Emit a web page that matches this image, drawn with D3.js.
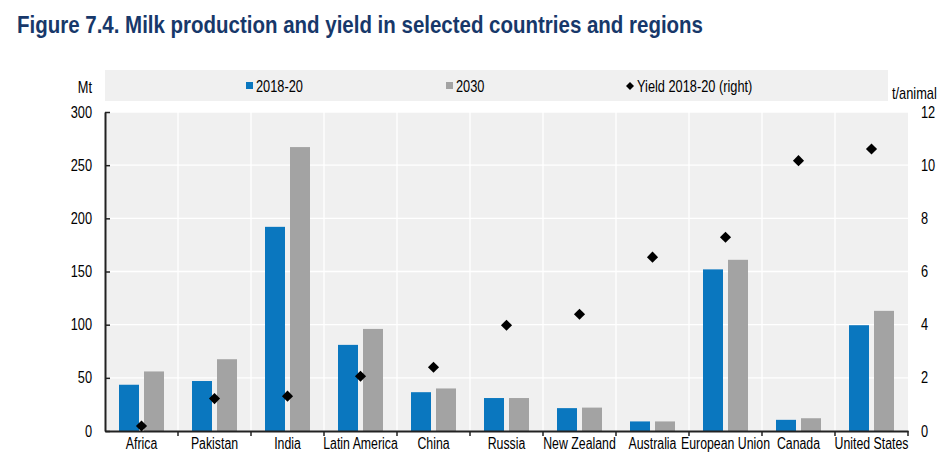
<!DOCTYPE html>
<html>
<head>
<meta charset="utf-8">
<script src="https://cdn.jsdelivr.net/npm/d3@7"></script>
<style>
  html, body { margin: 0; padding: 0; background: #fff; }
  svg text { font-family: "Liberation Sans", Arial, sans-serif; }
</style>
</head>
<body>
<svg id="chart" width="949" height="469"></svg>
<script>
// ---- data ----
const categories = ["Africa", "Pakistan", "India", "Latin America", "China", "Russia",
  "New Zealand", "Australia", "European Union", "Canada", "United States"];
const series = ["2018-20", "2030"];
const production2018 = [43.5, 47, 192, 81, 36.5, 31, 21.5, 9, 152, 10.5, 99.5];
const production2030 = [56, 67.5, 267, 96, 40, 31, 22, 9, 161, 12, 113];
const yield2018 = [0.19, 1.22, 1.31, 2.06, 2.4, 3.98, 4.39, 6.54, 7.29, 10.17, 10.61];
const leftTicks = [0, 50, 100, 150, 200, 250, 300];
const rightTicks = [0, 2, 4, 6, 8, 10, 12];
const legendLabels = ["2018-20", "2030", "Yield 2018-20 (right)"];
const titleText = "Figure 7.4. Milk production and yield in selected countries and regions";

// ---- layout ----
const colors = { "2018-20": "#0A77BF", "2030": "#A3A3A3" };
const plot = { left: 105, right: 908, top: 112, bottom: 431 };
const FS = 16;
const svg = d3.select("#chart");

const x0 = d3.scaleBand().domain(categories).range([plot.left, plot.right]).padding(0);
const x1 = d3.scaleBand().domain(series).range([0, x0.bandwidth()]).paddingInner(0.2).paddingOuter(0.56);
const yL = d3.scaleLinear().domain([0, 300]).range([plot.bottom, plot.top]);
const yR = d3.scaleLinear().domain([0, 12]).range([plot.bottom, plot.top]);

// plot background
svg.append("rect")
  .attr("x", plot.left).attr("y", plot.top)
  .attr("width", plot.right - plot.left).attr("height", plot.bottom - plot.top)
  .attr("fill", "#F0F0F0");

// horizontal grid
svg.append("g").selectAll("line").data(leftTicks.filter(d => d > 0)).join("line")
  .attr("x1", plot.left).attr("x2", plot.right)
  .attr("y1", d => yL(d)).attr("y2", d => yL(d))
  .attr("stroke", "#fff").attr("stroke-width", 1.3);

// vertical grid at category boundaries
const boundaries = categories.slice(1).map(c => x0(c));
svg.append("g").selectAll("line").data(boundaries).join("line")
  .attr("x1", d => d).attr("x2", d => d)
  .attr("y1", plot.top).attr("y2", plot.bottom)
  .attr("stroke", "#fff").attr("stroke-width", 1.3);

// legend box
svg.append("rect")
  .attr("x", 105).attr("y", 70).attr("width", 783).attr("height", 31)
  .attr("fill", "#F0F0F0");

const legendY = 86;
const lg = svg.append("g").attr("font-size", FS).attr("fill", "#000");
lg.append("rect").attr("x", 246).attr("y", legendY - 4).attr("width", 7).attr("height", 7).attr("fill", colors["2018-20"]);
lg.append("text").attr("class", "narrow").attr("x", 256).attr("y", legendY).attr("dy", "0.35em").text(legendLabels[0]);
lg.append("rect").attr("x", 446).attr("y", legendY - 4).attr("width", 7).attr("height", 7).attr("fill", colors["2030"]);
lg.append("text").attr("class", "narrow").attr("x", 456).attr("y", legendY).attr("dy", "0.35em").text(legendLabels[1]);
lg.append("path")
  .attr("d", d3.symbol(d3.symbolSquare, 32)())
  .attr("transform", `translate(630,${legendY}) rotate(45)`)
  .attr("fill", "#000");
lg.append("text").attr("class", "narrow").attr("x", 637).attr("y", legendY).attr("dy", "0.35em").text(legendLabels[2]);

// bars
const rows = categories.map((c, i) => ({ cat: c, values: [
  { s: "2018-20", v: production2018[i] },
  { s: "2030", v: production2030[i] }
]}));
svg.append("g").selectAll("g").data(rows).join("g")
  .attr("transform", d => `translate(${x0(d.cat)},0)`)
  .selectAll("rect").data(d => d.values).join("rect")
  .attr("x", d => x1(d.s))
  .attr("width", x1.bandwidth())
  .attr("y", d => yL(d.v))
  .attr("height", d => yL(0) - yL(d.v))
  .attr("fill", d => colors[d.s]);

// left axis
const axL = svg.append("g").attr("transform", `translate(${plot.left},0)`)
  .call(d3.axisLeft(yL).tickValues(leftTicks).tickSizeInner(-5).tickSizeOuter(0).tickPadding(13));
axL.select(".domain").attr("stroke", "#222").attr("stroke-width", 2);
axL.selectAll(".tick line").attr("stroke", "#222").attr("stroke-width", 1.5);
axL.selectAll("text").attr("class", "narrow").attr("font-size", FS).attr("fill", "#000")
  .attr("font-family", '"Liberation Sans", Arial, sans-serif');

// right axis
const axR = svg.append("g").attr("transform", `translate(${plot.right},0)`)
  .call(d3.axisRight(yR).tickValues(rightTicks).tickSize(0).tickPadding(13));
axR.select(".domain").remove();
axR.selectAll("text").attr("class", "narrow").attr("font-size", FS).attr("fill", "#000")
  .attr("font-family", '"Liberation Sans", Arial, sans-serif');

// bottom axis
const axB = svg.append("g").attr("transform", `translate(0,${plot.bottom})`)
  .call(d3.axisBottom(x0).tickSize(0).tickPadding(7));
axB.select(".domain").attr("stroke", "#222").attr("stroke-width", 2);
axB.selectAll("text").attr("class", "narrowx").attr("font-size", FS).attr("fill", "#000")
  .attr("font-family", '"Liberation Sans", Arial, sans-serif');
svg.append("g").selectAll("line").data(boundaries.concat([plot.right])).join("line")
  .attr("x1", d => d).attr("x2", d => d)
  .attr("y1", plot.bottom).attr("y2", plot.bottom + 5)
  .attr("stroke", "#222").attr("stroke-width", 1.5);

// yield diamonds
svg.append("g").selectAll("path").data(categories).join("path")
  .attr("d", d3.symbol(d3.symbolSquare, 62)())
  .attr("transform", (c, i) => `translate(${x0(c) + x0.bandwidth() / 2},${yR(yield2018[i])}) rotate(45)`)
  .attr("fill", "#000");

// axis unit labels
svg.append("text").attr("class", "narrow").attr("x", 92).attr("y", 87).attr("dy", "0.35em")
  .attr("text-anchor", "end").attr("font-size", FS).text("Mt");
svg.append("text").attr("class", "narrow").attr("x", 892).attr("y", 93).attr("dy", "0.35em")
  .attr("font-size", FS).text("t/animal");

// title
svg.append("text")
  .attr("x", 17).attr("y", 33)
  .attr("font-size", 24).attr("font-weight", "bold")
  .attr("fill", "#17386A")
  .attr("textLength", 686).attr("lengthAdjust", "spacingAndGlyphs")
  .text(titleText);

// emulate a condensed (Arial Narrow-like) face with a horizontal scale
function condense(sel, f) {
  sel.each(function () {
    const t = d3.select(this);
    const x = +(t.attr("x") || 0);
    t.attr("x", x / f).attr("transform", `scale(${f},1)`);
  });
}
condense(svg.selectAll("text.narrow"), 0.8);
condense(svg.selectAll("text.narrowx"), 0.77);
</script>
</body>
</html>
